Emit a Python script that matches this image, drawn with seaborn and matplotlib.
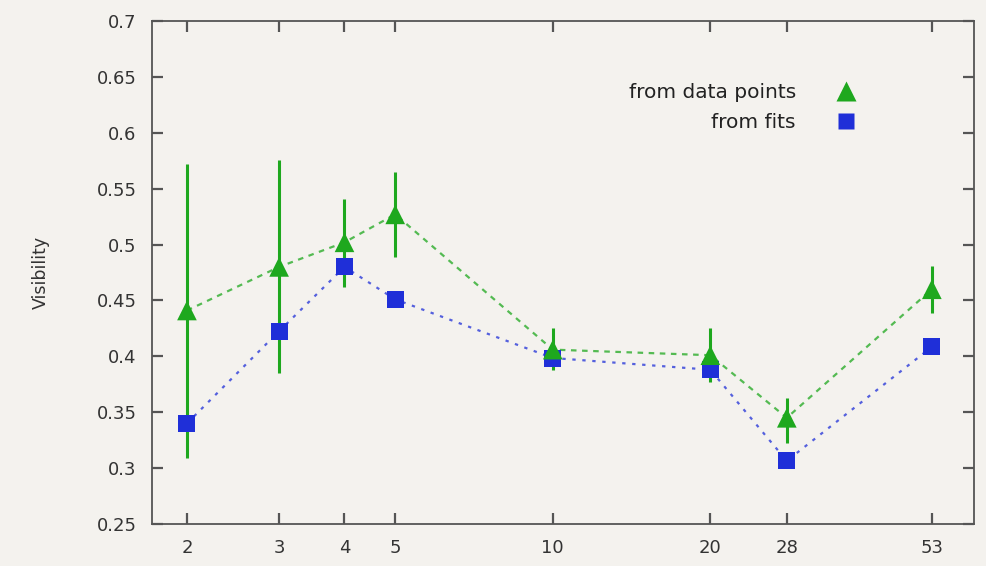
import matplotlib
matplotlib.use("Agg")
import matplotlib.pyplot as plt
from matplotlib.lines import Line2D
from matplotlib.ticker import FixedLocator, NullLocator, FixedFormatter
import seaborn as sns
import pandas as pd

# data
n_values = [2, 3, 4, 5, 10, 20, 28, 53]
vis_data = [0.441, 0.480, 0.502, 0.527, 0.406, 0.401, 0.345, 0.460]
err_low = [0.309, 0.385, 0.462, 0.489, 0.388, 0.377, 0.3225, 0.439]
err_high = [0.572, 0.576, 0.541, 0.565, 0.425, 0.425, 0.363, 0.481]
vis_fits = [0.340, 0.4225, 0.480, 0.451, 0.3985, 0.388, 0.3065, 0.4085]
series_names = ["from data points", "from fits"]
y_ticks = [0.25, 0.3, 0.35, 0.4, 0.45, 0.5, 0.55, 0.6, 0.65, 0.7]
y_tick_labels = ["0.25", "0.3", "0.35", "0.4", "0.45", "0.5", "0.55", "0.6", "0.65", "0.7"]

green = "#1ea81e"
blue = "#1f2fd8"
bg = "#f4f2ee"

df = pd.DataFrame({
    "n": n_values * 2,
    "vis": vis_data + vis_fits,
    "series": [series_names[0]] * len(n_values) + [series_names[1]] * len(n_values),
})

sns.set_theme(style="ticks")
plt.rcParams["font.family"] = ["DejaVu Sans"]

fig = plt.figure(figsize=(9.87, 5.66), dpi=100, facecolor=bg)
ax = fig.add_axes([152 / 987, 42 / 566, 822 / 987, 503 / 566])
ax.set_facecolor(bg)
ax.set_xscale("log")

# dashed connecting lines
sns.lineplot(data=df, x="n", y="vis", hue="series", style="series",
             palette={series_names[0]: green, series_names[1]: blue},
             dashes={series_names[0]: (2.5, 2.5), series_names[1]: (1.5, 3)},
             linewidth=1.6, alpha=0.75, legend=False, ax=ax, sort=True)

# error bars for data points
yerr = [[v - lo for v, lo in zip(vis_data, err_low)],
        [hi - v for v, hi in zip(vis_data, err_high)]]
ax.errorbar(n_values, vis_data, yerr=yerr, fmt="none", ecolor=green,
            elinewidth=2.2, capsize=0, zorder=3)

# markers
sns.scatterplot(x=n_values, y=vis_fits, marker="s", s=150, color=blue,
                edgecolor="none", ax=ax, zorder=4)
sns.scatterplot(x=n_values, y=vis_data, marker="^", s=200, color=green,
                edgecolor="none", ax=ax, zorder=5)

ax.set_xlim(1.715, 63.8)
ax.set_ylim(0.25, 0.7)
ax.xaxis.set_major_locator(FixedLocator(n_values))
ax.xaxis.set_major_formatter(FixedFormatter([str(v) for v in n_values]))
ax.xaxis.set_minor_locator(NullLocator())
ax.set_yticks(y_ticks)
ax.set_yticklabels(y_tick_labels)

for s in ax.spines.values():
    s.set_color("#555555")
    s.set_linewidth(1.3)
ax.tick_params(axis="both", which="major", direction="in", length=8, width=1.6,
               color="#555555", top=True, right=True, labelsize=13,
               labelcolor="#333333")
ax.tick_params(axis="x", pad=11)
ax.tick_params(axis="y", pad=11)

ax.set_xlabel("")
ax.set_ylabel("Visibility", fontsize=12.5, color="#333333", labelpad=34)

handles = [
    Line2D([], [], linestyle="none", marker="^", markersize=14, color=green,
           markeredgecolor="none"),
    Line2D([], [], linestyle="none", marker="s", markersize=11, color=blue,
           markeredgecolor="none"),
]
leg = ax.legend(handles, series_names, loc="center right", bbox_to_anchor=(0.869, 0.828),
                frameon=False, markerfirst=False, fontsize=14.5, handletextpad=1.5,
                labelspacing=0.5, borderaxespad=0, borderpad=0)
for t in leg.get_texts():
    t.set_ha("right")
    t.set_color("#222222")
leg._legend_box.align = "right"

fig.savefig("out.png", dpi=100, facecolor=bg)
